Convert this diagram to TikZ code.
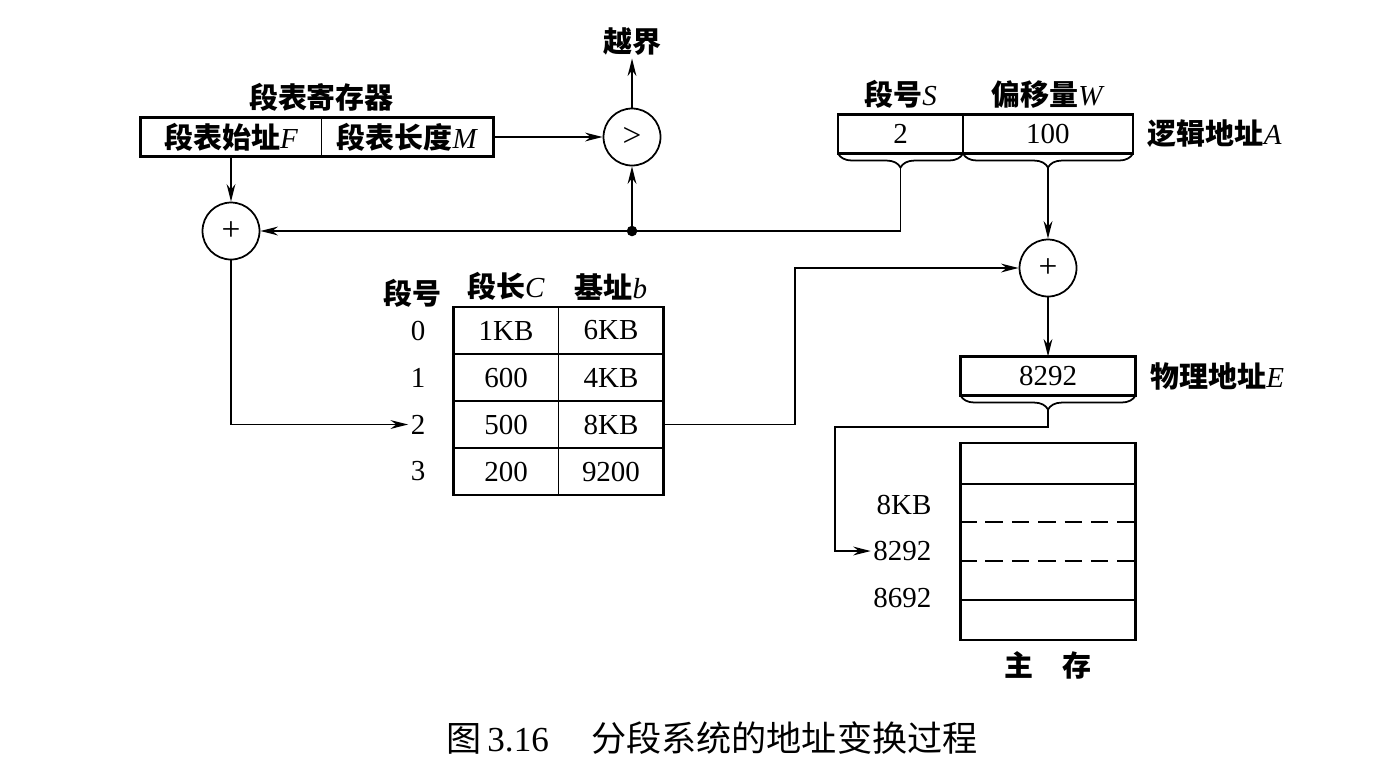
\documentclass[tikz,border=0pt]{standalone}
\usepackage{fontspec}
\setmainfont{Liberation Serif}
\newfontfamily\cjk{Noto Sans CJK SC}
\usetikzlibrary{arrows.meta, positioning, calc, decorations.pathreplacing}
\newcommand{\zh}[1]{{\cjk\bfseries #1}}

\begin{document}
\begin{tikzpicture}[
    x=0.02cm, y=0.02cm,
    >={Stealth[length=10pt, width=5pt]},
    every node/.style={inner sep=1pt, font=\fontsize{16.5}{19}\selectfont},
    field/.style={minimum height=0.78cm, outer sep=0pt},
    frame/.style={line width=1.6pt},
    cell/.style={draw, line width=1pt, minimum height=0.94cm, minimum width=2.1cm, outer sep=0pt},
    adder/.style={circle, draw, line width=1pt, minimum size=1.14cm, inner sep=0pt, font=\fontsize{19}{20}\selectfont},
    brc/.style={decorate, decoration={brace, mirror, amplitude=8pt}, line width=1pt},
    gap/.style={dash pattern=on 10pt off 5pt},
    line width=1pt
  ]
  \useasboundingbox (0,0) rectangle (1398,-772);

  % segment table register
  \node[field, minimum width=3.62cm] (fbase) at (231,-137) {\zh{段表始址}\textit{F}};
  \node[field, minimum width=3.44cm, right=0pt of fbase] (mlen) {\zh{段表长度}\textit{M}};
  \draw[frame] (fbase.north west) rectangle (mlen.south east);
  \draw (fbase.north east) -- (fbase.south east);
  \node[above=2pt of fbase.north east] (regname) {\zh{段表寄存器}};

  % comparator and adders
  \node[adder] (cmp) at (632,-137) {\textgreater};
  \node[adder] (add1) at (231,-231) {+};
  \node[adder] (add2) at (1048,-268) {+};
  \node (yue) at (632,-42) {\zh{越界}};

  % logical address
  \node[field, minimum width=2.5cm] (seg) at (900.5,-134) {2};
  \node[field, minimum width=3.4cm, right=0pt of seg] (off) {100};
  \draw[frame] (seg.north west) rectangle (off.south east);
  \draw[frame] (seg.north east) -- (seg.south east);
  \node[above=2pt of seg] (segname) {\zh{段号}\textit{S}};
  \node[above=2pt of off] (offname) {\zh{偏移量}\textit{W}};
  \node[right=7pt of off] (logname) {\zh{逻辑地址}\textit{A}};
  \draw[brc] (seg.south west) -- (seg.south east);
  \draw[brc] (off.south west) -- (off.south east);
  \coordinate (segtip) at ($(seg.south)+(0,-8pt)$);
  \coordinate (offtip) at ($(off.south)+(0,-8pt)$);

  % segment table
  \foreach \len/\base [count=\i from 0] in {1KB/6KB, 600/4KB, 500/8KB, 200/9200} {
    \node[cell] (c\i) at (506,{-330.5-47*\i}) {\len};
    \node[cell, right=0pt of c\i] (b\i) {\base};
    \node (n\i) at (418,{-330.5-47*\i}) {\i};
  }
  \draw[frame] (c0.north west) rectangle (b3.south east);
  \node (hnum) at (412,-293) {\zh{段号}};
  \node[above=2pt of c0] (hlen) {\zh{段长}\textit{C}};
  \node[above=2pt of b0] (hbase) {\zh{基址}\textit{b}};

  % physical address
  \node[field, minimum width=3.5cm] (phys) at (1048,-376) {8292};
  \draw[frame] (phys.north west) rectangle (phys.south east);
  \draw[brc] (phys.south west) -- (phys.south east);
  \coordinate (phystip) at ($(phys.south)+(0,-8pt)$);
  \node[right=7pt of phys] (physname) {\zh{物理地址}\textit{E}};

  % main memory
  \node[draw, frame, minimum width=3.5cm, minimum height=3.94cm] (mem) at (1048,-541.5) {};
  \foreach \yy/\sty in {484/solid, 522/gap, 561/gap, 600/solid}
    \draw[\sty] (mem.west |- 0,-\yy) -- (mem.east |- 0,-\yy);
  \node[anchor=east] (m8k) at (934,-505) {8KB};
  \node[anchor=east] (m8292) at (934,-551) {8292};
  \node[anchor=east] (m8692) at (934,-598) {8692};
  \node (mainmem) at (1048,-665) {\zh{主\hspace{1em}存}};

  % connectors
  \coordinate (dot) at (cmp |- add1);
  \coordinate (turn) at (795,-424);
  \coordinate (drop) at (835,-427);
  \draw[->] (cmp.north) -- (yue.south);
  \draw[->] (mlen.east) -- (cmp.west);
  \draw[->] (fbase.south -| add1) -- (add1.north);
  \draw[->] (segtip) |- (add1.east);
  \fill (dot) circle (3pt);
  \draw[->] (dot) -- (cmp.south);
  \draw[->] (offtip) -- (add2.north);
  \draw[->] (b2.east) -- (b2.east -| turn) |- (add2.west);
  \draw[->] (add2.south) -- (phys.north);
  \draw[->] (phystip) |- (drop) |- (m8292.west);
  \draw[->] (add1.south) |- (n2.west);

  \node (caption) at (712,-738) {\fontsize{20}{24}\selectfont{\cjk 图}\,3.16\hspace{1.2em}{\cjk 分段系统的地址变换过程}};
\end{tikzpicture}
\end{document}
